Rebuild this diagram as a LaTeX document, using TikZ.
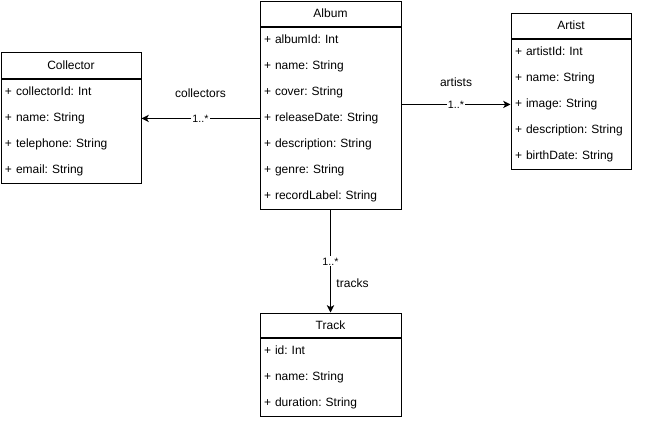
\documentclass[tikz,border=0pt]{standalone}
\usepackage{fontspec}
\setmainfont{Liberation Sans}
\frenchspacing
\usetikzlibrary{arrows.meta, positioning, calc}

\begin{document}
\begin{tikzpicture}[
    x=0.75pt, y=-0.75pt,
    classhead/.style={rectangle, draw=black, line width=0.75pt, font=\fontsize{9}{11}\selectfont, inner sep=0pt},
    classbody/.style={rectangle, draw=black, line width=0.75pt, font=\fontsize{9}{19.5}\selectfont, align=left, inner xsep=3pt, inner ysep=5.9pt},
    arrow/.style={-{Stealth[length=5.5pt, width=5.5pt, inset=1.5pt]}, line width=0.75pt},
    mult/.style={font=\fontsize{8}{9}\selectfont, fill=white, inner sep=1pt},
    rolelabel/.style={font=\fontsize{9}{11}\selectfont},
]
\useasboundingbox (0,0) rectangle (651,421);

% Album
\node[classhead, minimum width=105.75pt, minimum height=18.75pt] (albumhead) at (330.5,13.5) {Album};
\node[classbody, text width=99.75pt, below=0pt of albumhead] (albumbody) {+ albumId: Int\\+ name: String\\+ cover: String\\+ releaseDate: String\\+ description: String\\+ genre: String\\+ recordLabel: String};

% Collector
\node[classhead, minimum width=105pt, minimum height=19.5pt] (collectorhead) at (71,65) {Collector};
\node[classbody, text width=99pt, below=0pt of collectorhead] (collectorbody) {+ collectorId: Int\\+ name: String\\+ telephone: String\\+ email: String};

% Artist
\node[classhead, minimum width=90pt, minimum height=18.75pt] (artisthead) at (571,25.5) {Artist};
\node[classbody, text width=84pt, below=0pt of artisthead] (artistbody) {+ artistId: Int\\+ name: String\\+ image: String\\+ description: String\\+ birthDate: String};

% Track
\node[classhead, minimum width=105.75pt, minimum height=18pt] (trackhead) at (330.5,325) {Track};
\node[classbody, text width=99.75pt, below=0pt of trackhead] (trackbody) {+ id: Int\\+ name: String\\+ duration: String};

% Associations
\draw[arrow] (albumbody.west) -- node[mult] (collectorsmult) {1..*} node[rolelabel, yshift=18.75pt] (collectorslabel) {collectors} (albumbody.west -| collectorbody.east);
\draw[arrow] (albumbody.east |- artistbody.west) -- node[mult] (artistsmult) {1..*} node[rolelabel, yshift=16.5pt] (artistslabel) {artists} (artistbody.west);
\draw[arrow] (albumbody.south) -- node[mult] (tracksmult) {1..*} node[rolelabel, xshift=16.5pt, yshift=-16.5pt] (trackslabel) {tracks} (trackhead.north);

\end{tikzpicture}
\end{document}
